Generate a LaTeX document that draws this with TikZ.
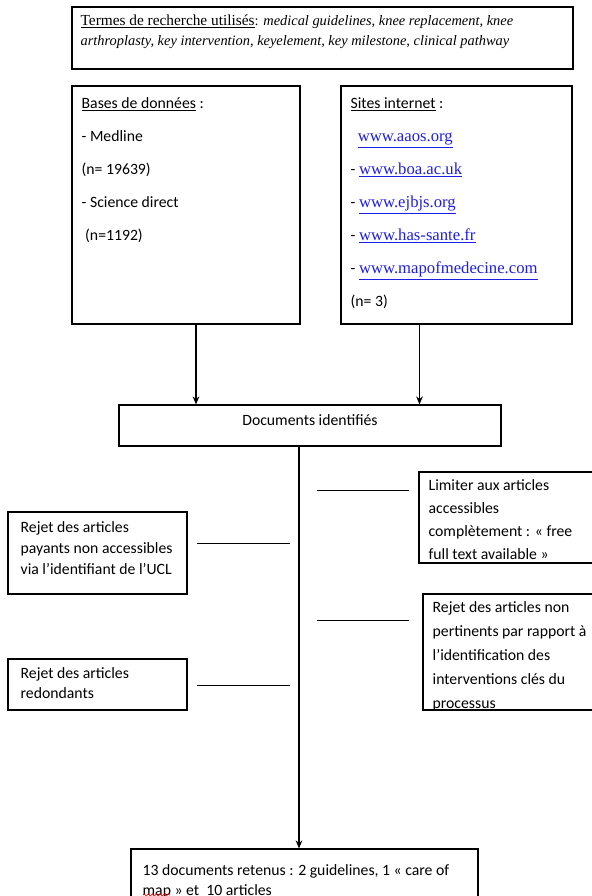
\documentclass[tikz,border=0pt]{standalone}
\usepackage{fontspec}
\setmainfont{Carlito}
\newfontfamily\tnr{Liberation Serif}
\usetikzlibrary{calc,positioning,arrows.meta,decorations.pathmorphing}
\definecolor{bleulien}{RGB}{30,30,225}
\newcommand\site[1]{{\tnr\fontsize{12.5}{15}\selectfont\color{bleulien}\underline{#1}}}

\tikzset{
  boite/.style={draw=black, line width=0.9pt, inner sep=0pt},
  txt/.style={anchor=north west, align=left, inner sep=0pt},
  fleche/.style={-{Stealth[length=6pt,width=5pt]}, line width=0.8pt},
  trait/.style={line width=0.8pt}
}

\begin{document}
\begin{tikzpicture}[x=0.75pt,y=-0.75pt]
  \useasboundingbox (0,0) rectangle (592,896);
  \node (termes) at (322.5,38)[boite, minimum width=375.75pt, minimum height=46.5pt]{};
         \node (termestxt) at ($(termes.north west)+(9,8)$)[txt, font=\tnr\fontsize{10.8}{15}\selectfont]{{\fontsize{11.5}{15}\selectfont\underline{Termes de recherche utilisés}}: \textit{medical guidelines, knee replacement, knee}\\\textit{arthroplasty, key intervention, keyelement, key milestone, clinical pathway}};
  \node (bases) at (186,205)[boite, minimum width=171pt, minimum height=178.5pt]{};
         \node (basestxt) at ($(bases.north west)+(10,12)$)[txt, font=\fontsize{11.8}{24.75}\selectfont]{\underline{Bases de données} :\\- Medline\\(n= 19639)\\- Science direct\\\ (n=1192)};
  \node (sites) at (456.5,205)[boite, minimum width=173.25pt, minimum height=178.5pt]{};
         \node (sitestxt) at ($(sites.north west)+(10,12)$)[txt, font=\fontsize{11.8}{24.75}\selectfont]{\underline{Sites internet} :\\\ \ \site{www.aaos.org}\\- \site{www.boa.ac.uk}\\- \site{www.ejbjs.org}\\- \site{www.has-sante.fr}\\- \site{www.mapofmedecine.com}\\(n= 3)};
  \node (docs) at (310,425.5)[boite, minimum width=286.5pt, minimum height=30.75pt]{};
         \node (docstxt) at ($(docs.center)+(0,-5)$)[font=\fontsize{11.8}{15}\selectfont, inner sep=0pt]{Documents identifiés};
  \node (limiter) at (507.5,517.5)[boite, minimum width=132.75pt, minimum height=68.25pt]{};
         \node (limitertxt) at ($(limiter.north west)+(10,8)$)[txt, font=\fontsize{11.8}{17.25}\selectfont]{Limiter aux articles\\accessibles\\complètement : « free\\full text available »};
  \node (payants) at (97.5,553)[boite, minimum width=134.25pt, minimum height=61.5pt]{};
         \node (payantstxt) at ($(payants.north west)+(13,10)$)[txt, font=\fontsize{11.8}{15.75}\selectfont]{Rejet des articles\\payants non accessibles\\via l’identifiant de l’UCL};
  \node (pertinents) at (509.5,652)[boite, minimum width=129.75pt, minimum height=87pt]{};
         \node (pertinentstxt) at ($(pertinents.north west)+(10,8)$)[txt, font=\fontsize{11.8}{18}\selectfont]{Rejet des articles non\\pertinents par rapport à\\l’identification des\\interventions clés du\\processus};
  \node (redondants) at (97.5,684.5)[boite, minimum width=134.25pt, minimum height=38.25pt]{};
         \node (redondantstxt) at ($(redondants.north west)+(13,9)$)[txt, font=\fontsize{11.8}{15}\selectfont]{Rejet des articles\\redondants};
  \node (final) at (304.5,877)[boite, minimum width=260.25pt, minimum height=42pt]{};
         \node (finaltxt) at ($(final.north west)+(12,16)$)[txt, font=\fontsize{11.8}{15}\selectfont]{13 documents retenus : 2 guidelines, 1 « care of\\map » et\ \ 10 articles};
         \draw [red, line width=0.5pt, decorate, decoration={snake, amplitude=0.8pt, segment length=3pt}] (143,895) -- (170,895);
  \coordinate (tronc) at ($(docs.south)+(-11,0)$);
         \draw [fleche] ($(bases.south)+(10,0)$) -- ($(bases.south |- docs.north)+(10,0)$);
         \draw [fleche] ($(sites.south)+(-37,0)$) -- ($(sites.south |- docs.north)+(-37,0)$);
         \draw [fleche] (tronc) -- (tronc |- final.north);
         \draw [trait] ($(tronc |- limiter.north)+(18,19)$) -- ($(limiter.north west)+(-9,19)$);
         \draw [trait] ($(tronc |- pertinents.north)+(18,27)$) -- ($(pertinents.north west)+(-13,27)$);
         \draw [trait] ($(payants.north east)+(9,32)$) -- ($(tronc |- payants.north)+(-9,32)$);
         \draw [trait] ($(redondants.north east)+(9,27)$) -- ($(tronc |- redondants.north)+(-9,27)$);
    \end{tikzpicture}
\end{document}
